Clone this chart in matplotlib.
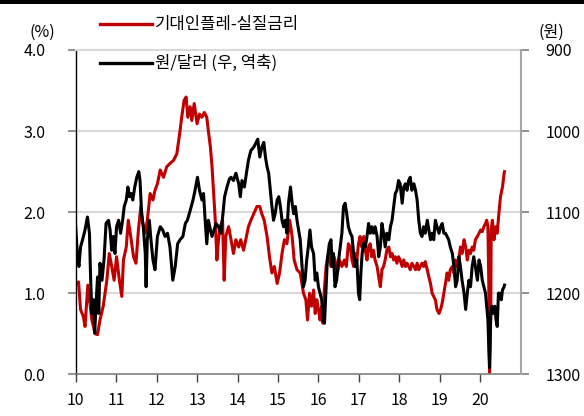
import matplotlib
matplotlib.use("Agg")
import matplotlib.pyplot as plt
from matplotlib.lines import Line2D
from matplotlib.patches import Rectangle

plt.rcParams['font.family'] = ['Noto Sans CJK KR', 'DejaVu Sans']

# 기대인플레-실질금리 (%), left axis
red_years = [
    2010.00, 2010.07, 2010.12, 2010.19, 2010.23, 2010.30, 2010.40, 2010.48, 2010.54, 2010.60,
    2010.68, 2010.77, 2010.83, 2010.89, 2010.95, 2011.01, 2011.08, 2011.14, 2011.18, 2011.25,
    2011.30, 2011.36, 2011.43, 2011.49, 2011.55, 2011.61, 2011.66, 2011.72, 2011.77, 2011.84,
    2011.91, 2011.96, 2012.02, 2012.09, 2012.17, 2012.25, 2012.33, 2012.42, 2012.50, 2012.57,
    2012.62, 2012.68, 2012.73, 2012.77, 2012.83, 2012.87, 2012.93, 2013.00, 2013.06, 2013.12,
    2013.18, 2013.24, 2013.28, 2013.33, 2013.37, 2013.41, 2013.45, 2013.49, 2013.53, 2013.57,
    2013.63, 2013.67, 2013.71, 2013.78, 2013.84, 2013.90, 2013.96, 2014.03, 2014.08, 2014.15,
    2014.22, 2014.27, 2014.33, 2014.40, 2014.48, 2014.55, 2014.60, 2014.66, 2014.73, 2014.79,
    2014.85, 2014.91, 2014.98, 2015.04, 2015.10, 2015.16, 2015.22, 2015.29, 2015.35, 2015.40,
    2015.47, 2015.55, 2015.63, 2015.69, 2015.73, 2015.78, 2015.83, 2015.88, 2015.92, 2015.96,
    2016.00, 2016.04, 2016.08, 2016.11, 2016.14, 2016.19, 2016.25, 2016.31, 2016.36, 2016.41,
    2016.47, 2016.52, 2016.58, 2016.64, 2016.69, 2016.74, 2016.79, 2016.83, 2016.87, 2016.91,
    2016.95, 2016.99, 2017.03, 2017.07, 2017.12, 2017.16, 2017.20, 2017.24, 2017.28, 2017.32,
    2017.36, 2017.40, 2017.45, 2017.49, 2017.53, 2017.57, 2017.61, 2017.65, 2017.69, 2017.74,
    2017.78, 2017.82, 2017.86, 2017.90, 2017.94, 2017.98, 2018.02, 2018.07, 2018.11, 2018.15,
    2018.19, 2018.23, 2018.27, 2018.31, 2018.36, 2018.40, 2018.44, 2018.48, 2018.52, 2018.56,
    2018.60, 2018.64, 2018.69, 2018.73, 2018.77, 2018.81, 2018.85, 2018.89, 2018.93, 2018.98,
    2019.02, 2019.06, 2019.10, 2019.14, 2019.18, 2019.22, 2019.26, 2019.31, 2019.35, 2019.39,
    2019.43, 2019.47, 2019.51, 2019.55, 2019.60, 2019.64, 2019.68, 2019.72, 2019.76, 2019.80,
    2019.84, 2019.88, 2019.93, 2019.97, 2020.01, 2020.05, 2020.09, 2020.13, 2020.16, 2020.19,
    2020.21, 2020.23, 2020.26, 2020.27, 2020.30, 2020.34, 2020.38, 2020.42, 2020.46, 2020.50,
    2020.55, 2020.59, 2020.60,
]
red_values = [
    1.12, 1.14, 0.80, 0.71, 0.59, 1.10, 0.67, 0.50, 0.49, 0.67,
    0.84, 1.16, 1.49, 1.33, 1.16, 1.45, 1.16, 0.96, 1.41, 1.57,
    1.90, 1.70, 1.45, 1.37, 1.78, 2.07, 1.86, 1.74, 1.90, 2.23,
    2.15, 2.27, 2.35, 2.52, 2.43, 2.56, 2.60, 2.64, 2.72, 2.97,
    3.17, 3.38, 3.42, 3.17, 3.30, 3.13, 3.34, 3.09, 3.21, 3.17,
    3.23, 3.17, 3.00, 2.80, 2.56, 2.23, 1.90, 1.41, 1.66, 1.82,
    1.90, 1.16, 1.70, 1.82, 1.66, 1.49, 1.66, 1.57, 1.66, 1.53,
    1.70, 1.82, 1.90, 1.98, 2.07, 2.07, 1.98, 1.90, 1.70, 1.45,
    1.25, 1.33, 1.12, 1.25, 1.49, 1.66, 1.61, 1.90, 1.70, 1.41,
    1.29, 1.25, 1.00, 0.92, 0.67, 1.00, 0.84, 1.04, 0.75, 0.92,
    0.80, 0.67, 0.84, 0.63, 1.00, 1.33, 1.49, 1.33, 1.49, 1.41,
    1.25, 1.41, 1.33, 1.41, 1.33, 1.61, 1.57, 1.41, 1.33, 1.49,
    1.41, 1.61, 1.70, 1.57, 1.70, 1.53, 1.41, 1.57, 1.61, 1.45,
    1.53, 1.41, 1.33, 1.20, 1.08, 1.29, 1.33, 1.41, 1.53, 1.57,
    1.45, 1.49, 1.41, 1.45, 1.37, 1.45, 1.41, 1.33, 1.41, 1.33,
    1.37, 1.33, 1.29, 1.37, 1.33, 1.29, 1.37, 1.29, 1.33, 1.37,
    1.33, 1.39, 1.29, 1.20, 1.12, 1.00, 0.96, 0.92, 0.80, 0.75,
    0.80, 0.88, 1.00, 1.12, 1.25, 1.16, 1.29, 1.33, 1.25, 1.41,
    1.33, 1.41, 1.57, 1.49, 1.66, 1.57, 1.41, 1.53, 1.49, 1.57,
    1.53, 1.66, 1.70, 1.74, 1.78, 1.76, 1.82, 1.86, 1.90, 1.82,
    1.16, 0.02, 0.75, 1.78, 1.90, 1.66, 1.82, 1.74, 1.98, 2.19,
    2.31, 2.48, 2.50,
]

# 원/달러 (원), right axis, inverted
krw_years = [
    2010.00, 2010.04, 2010.08, 2010.12, 2010.17, 2010.23, 2010.29, 2010.34, 2010.37, 2010.40,
    2010.44, 2010.47, 2010.50, 2010.54, 2010.57, 2010.60, 2010.65, 2010.70, 2010.75, 2010.81,
    2010.85, 2010.89, 2010.93, 2010.97, 2011.01, 2011.06, 2011.11, 2011.16, 2011.20, 2011.25,
    2011.29, 2011.33, 2011.37, 2011.41, 2011.46, 2011.51, 2011.56, 2011.59, 2011.63, 2011.67,
    2011.72, 2011.74, 2011.77, 2011.82, 2011.86, 2011.91, 2011.96, 2012.02, 2012.09, 2012.15,
    2012.21, 2012.27, 2012.33, 2012.40, 2012.46, 2012.52, 2012.58, 2012.65, 2012.71, 2012.76,
    2012.83, 2012.90, 2012.95, 2013.01, 2013.06, 2013.12, 2013.16, 2013.20, 2013.24, 2013.28,
    2013.33, 2013.37, 2013.42, 2013.47, 2013.53, 2013.59, 2013.64, 2013.68, 2013.74, 2013.80,
    2013.84, 2013.90, 2013.96, 2014.03, 2014.07, 2014.11, 2014.17, 2014.22, 2014.27, 2014.33,
    2014.40, 2014.46, 2014.50, 2014.55, 2014.60, 2014.65, 2014.69, 2014.73, 2014.77, 2014.81,
    2014.85, 2014.89, 2014.93, 2014.98, 2015.02, 2015.06, 2015.10, 2015.14, 2015.18, 2015.22,
    2015.26, 2015.31, 2015.35, 2015.39, 2015.43, 2015.47, 2015.55, 2015.59, 2015.63, 2015.67,
    2015.71, 2015.75, 2015.79, 2015.83, 2015.88, 2015.92, 2015.96, 2016.00, 2016.04, 2016.08,
    2016.12, 2016.15, 2016.19, 2016.22, 2016.27, 2016.31, 2016.34, 2016.37, 2016.41, 2016.45,
    2016.50, 2016.54, 2016.58, 2016.62, 2016.66, 2016.70, 2016.74, 2016.79, 2016.83, 2016.87,
    2016.91, 2016.95, 2016.99, 2017.02, 2017.05, 2017.08, 2017.12, 2017.16, 2017.20, 2017.24,
    2017.28, 2017.32, 2017.36, 2017.40, 2017.45, 2017.49, 2017.53, 2017.57, 2017.61, 2017.65,
    2017.69, 2017.74, 2017.78, 2017.82, 2017.86, 2017.90, 2017.94, 2017.98, 2018.02, 2018.07,
    2018.11, 2018.15, 2018.19, 2018.23, 2018.27, 2018.31, 2018.36, 2018.40, 2018.44, 2018.48,
    2018.52, 2018.56, 2018.60, 2018.64, 2018.69, 2018.73, 2018.77, 2018.81, 2018.85, 2018.89,
    2018.93, 2018.98, 2019.02, 2019.06, 2019.10, 2019.14, 2019.18, 2019.22, 2019.26, 2019.31,
    2019.35, 2019.39, 2019.43, 2019.47, 2019.51, 2019.55, 2019.60, 2019.64, 2019.68, 2019.72,
    2019.76, 2019.80, 2019.84, 2019.88, 2019.93, 2019.97, 2020.01, 2020.05, 2020.09, 2020.13,
    2020.16, 2020.19, 2020.21, 2020.23, 2020.26, 2020.29, 2020.32, 2020.36, 2020.39, 2020.42,
    2020.45, 2020.49, 2020.52, 2020.55, 2020.59, 2020.60,
]
krw_values = [
    1118, 1151, 1167, 1143, 1134, 1122, 1106, 1126, 1184, 1225,
    1208, 1249, 1216, 1180, 1225, 1163, 1184, 1159, 1114, 1110,
    1122, 1147, 1130, 1151, 1118, 1110, 1126, 1110, 1093, 1085,
    1069, 1081, 1077, 1085, 1069, 1057, 1050, 1061, 1102, 1118,
    1151, 1192, 1134, 1110, 1134, 1159, 1171, 1130, 1118, 1122,
    1130, 1126, 1143, 1184, 1167, 1139, 1134, 1130, 1114, 1110,
    1098, 1085, 1073, 1057, 1073, 1085, 1077, 1110, 1139, 1110,
    1122, 1130, 1122, 1114, 1118, 1126, 1102, 1081, 1069, 1059,
    1057, 1061, 1052, 1065, 1081, 1061, 1069, 1052, 1036, 1024,
    1020, 1014, 1010, 1032, 1020, 1014, 1032, 1044, 1052, 1073,
    1093, 1110, 1102, 1085, 1081, 1093, 1110, 1118, 1110, 1126,
    1089, 1069, 1089, 1102, 1093, 1110, 1134, 1163, 1192, 1184,
    1159, 1143, 1122, 1143, 1151, 1184, 1175, 1192, 1200, 1208,
    1233, 1237, 1192, 1159, 1139, 1134, 1167, 1151, 1192, 1184,
    1159, 1143, 1126, 1093, 1089, 1102, 1118, 1126, 1130, 1151,
    1167, 1159, 1200, 1208, 1175, 1151, 1139, 1143, 1130, 1114,
    1126, 1118, 1126, 1118, 1130, 1155, 1143, 1114, 1126, 1143,
    1126, 1134, 1118, 1110, 1093, 1077, 1073, 1061, 1065, 1089,
    1069, 1065, 1073, 1061, 1057, 1073, 1065, 1073, 1085, 1110,
    1126, 1130, 1118, 1126, 1110, 1122, 1134, 1126, 1134, 1110,
    1118, 1126, 1118, 1114, 1126, 1126, 1130, 1134, 1143, 1151,
    1167, 1192, 1184, 1155, 1167, 1184, 1200, 1220, 1200, 1184,
    1192, 1167, 1155, 1167, 1184, 1159, 1167, 1184, 1192, 1200,
    1216, 1233, 1266, 1292, 1225, 1216, 1225, 1216, 1233, 1241,
    1200, 1200, 1208, 1196, 1192, 1190,
]

x_ticks = list(range(2010, 2021))
x_labels = [str(y % 100) for y in x_ticks]
left_ticks = [0, 1, 2, 3, 4]
right_ticks = [900, 1000, 1100, 1200, 1300]

red = '#c00000'
grid_c = '#d9d9d9'
W, H = 584, 416

fig = plt.figure(figsize=(5.84, 4.16), dpi=100)
ax = fig.add_axes([75.7 / W, 1 - 374.3 / H, 445 / W, 324.3 / H])
ax2 = ax.twinx()

ax.plot(red_years, red_values, color=red, lw=2.2, zorder=2)
ax2.plot(krw_years, krw_values, color='black', lw=2.2, zorder=3)

ax.set_xlim(2010, 2021)
ax.set_ylim(0, 4)
ax2.set_ylim(1300, 900)

ax.set_xticks(x_ticks)
ax.set_xticklabels(x_labels)
ax.set_yticks(left_ticks)
ax.set_yticklabels([f'{v:.1f}' for v in left_ticks])
ax2.set_yticks(right_ticks)

for v in [1, 2, 3]:
    ax.axhline(v, color=grid_c, lw=1.5, zorder=0)

ax.spines['top'].set_color(grid_c)
ax.spines['top'].set_linewidth(1.5)
ax.spines['left'].set_color('black')
ax.spines['left'].set_linewidth(1.0)
ax.spines['bottom'].set_color('#7f7f7f')
ax.spines['bottom'].set_linewidth(1.2)
ax.spines['right'].set_visible(False)
for s in ['top', 'left', 'bottom']:
    ax2.spines[s].set_visible(False)
ax2.spines['right'].set_color('#a6a6a6')
ax2.spines['right'].set_linewidth(1.5)

ax.tick_params(axis='y', direction='out', length=6, width=1.2, color='#7f7f7f',
               labelsize=11.5, pad=16)
ax.tick_params(axis='x', direction='out', length=6, width=1.0, color='#404040',
               labelsize=11.5, pad=7)
ax2.tick_params(axis='y', direction='out', length=6, width=1.2, color='#7f7f7f',
                labelsize=11.5, pad=12)

# unit labels
fig.text(42 / W, 1 - 32 / H, '(%)', fontsize=11.5, ha='center', va='center')
fig.text(551 / W, 1 - 32 / H, '(원)', fontsize=11.5, ha='center', va='center')

# legend
fig.add_artist(Line2D([100 / W, 152 / W], [1 - 24 / H, 1 - 24 / H], color=red, lw=2.4))
fig.text(155 / W, 1 - 24 / H, '기대인플레-실질금리', fontsize=12, ha='left', va='center')
fig.add_artist(Line2D([100 / W, 152 / W], [1 - 63 / H, 1 - 63 / H], color='black', lw=2.4))
fig.text(155 / W, 1 - 63 / H, '원/달러 (우, 역축)', fontsize=12, ha='left', va='center')

# top border bar
fig.add_artist(Rectangle((0, 1 - 4 / H), 1, 4 / H, transform=fig.transFigure,
                         color='black', lw=0))

fig.savefig('out.png', dpi=100)
